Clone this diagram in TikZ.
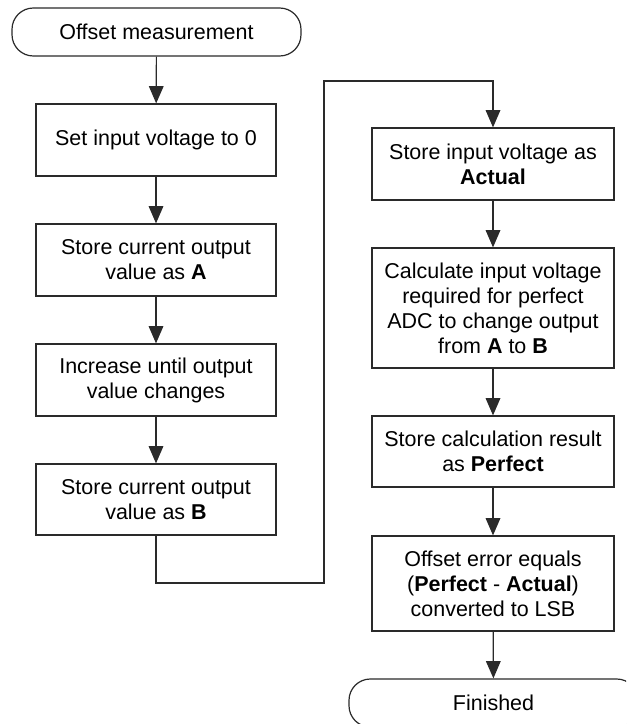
\documentclass[tikz,border=0pt]{standalone}
\usepackage{fontspec}
\setmainfont{Liberation Sans}
\usetikzlibrary{arrows.meta}
\definecolor{linec}{HTML}{2A2A2A}
\def\pxu{0.75pt}
\tikzset{
  every node/.style={font=\fontsize{16.1pt}{18.75pt}\selectfont, align=center, inner sep=0pt},
  procbox/.style={draw=linec, line width=0.9pt, fill=white, minimum width=240*\pxu},
  rbox/.style={procbox, minimum width=242*\pxu},
  term/.style={draw=linec, line width=0.9pt, fill=white, rounded corners=16pt, minimum width=289*\pxu, minimum height=48*\pxu},
  flow/.style={draw=linec, line width=0.9pt, -{Triangle[length=13pt,width=11pt]}},
}
\begin{document}
\begin{tikzpicture}[x=0.75pt,y=-0.75pt]
\useasboundingbox (0,0) rectangle (626,724);
\clip (0,0) rectangle (626,724);
% left column
\node[term] (start) at (156.5,32) {Offset measurement};
\node[procbox, minimum height=72*\pxu] (b1) at (156,140) {Set input voltage to 0};
\node[procbox, minimum height=72*\pxu] (b2) at (156,260) {Store current output\\value as \textbf{A}};
\node[procbox, minimum height=72*\pxu] (b3) at (156,380) {Increase until output\\value changes};
\node[procbox, minimum height=71*\pxu] (b4) at (156,499.5) {Store current output\\value as \textbf{B}};
% right column
\node[rbox, minimum height=72*\pxu] (r1) at (493,164) {Store input voltage as\\\textbf{Actual}};
\node[rbox, minimum height=120*\pxu] (r2) at (493,308) {Calculate input voltage\\required for perfect\\ADC to change output\\from \textbf{A} to \textbf{B}};
\node[rbox, minimum height=71*\pxu] (r3) at (493,451.5) {Store calculation result\\as \textbf{Perfect}};
\node[rbox, minimum height=95*\pxu] (r4) at (493,583.5) {Offset error equals\\(\textbf{Perfect} - \textbf{Actual})\\converted to LSB};
\node[term] (fin) at (493.5,703) {Finished};
% connectors
\draw[flow] (start) -- (b1);
\draw[flow] (b1) -- (b2);
\draw[flow] (b2) -- (b3);
\draw[flow] (b3) -- (b4);
\coordinate (c1) at (156,583);
\coordinate (c2) at (324,583);
\coordinate (c3) at (324,81);
\coordinate (c4) at (493,81);
\draw[flow] (b4.south) -- (c1) -- (c2) -- (c3) -- (c4) -- (r1.north);
\draw[flow] (r1) -- (r2);
\draw[flow] (r2) -- (r3);
\draw[flow] (r3) -- (r4);
\draw[flow] (r4) -- (fin);
\end{tikzpicture}
\end{document}
